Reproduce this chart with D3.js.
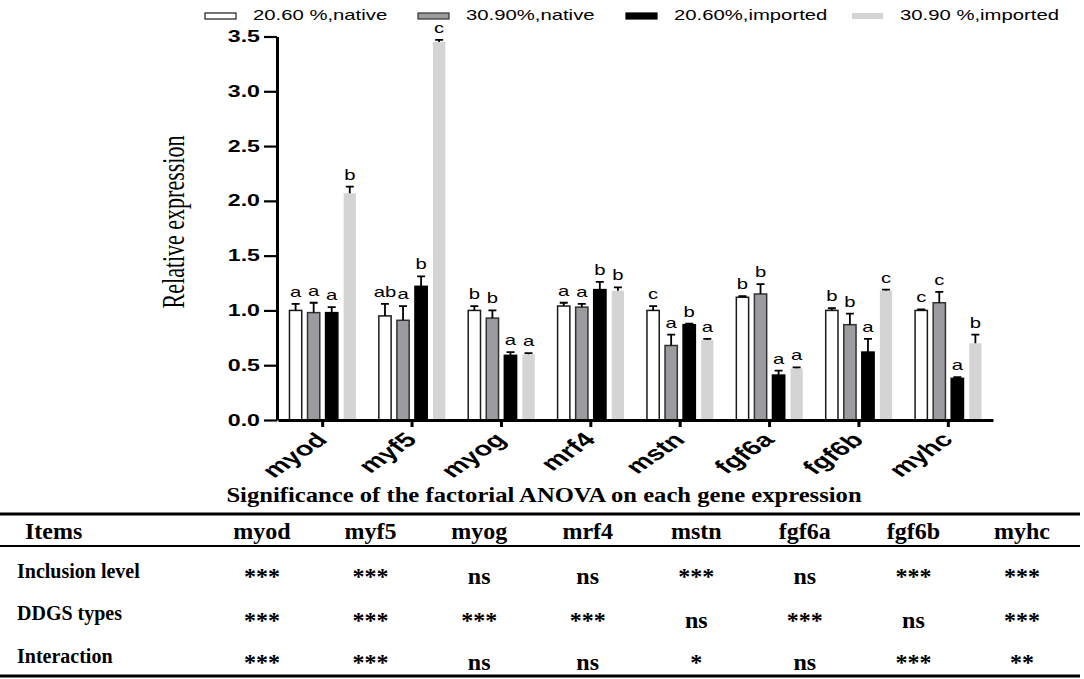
<!DOCTYPE html>
<html>
<head>
<meta charset="utf-8">
<script src="https://cdn.jsdelivr.net/npm/d3@7"></script>
<style>
  body { margin: 0; background: #fff; }
  svg { display: block; }
</style>
</head>
<body>
<div id="chart"></div>
<script>
// ---- data ----
const genes = ["myod", "myf5", "myog", "mrf4", "mstn", "fgf6a", "fgf6b", "myhc"];
const groups = ["20.60 %,native", "30.90%,native", "20.60%,imported", "30.90 %,imported"];

const native206 = [1.00, 0.95, 1.00, 1.04, 1.00, 1.12, 1.00, 1.00];
const native206Se = [0.06, 0.11, 0.04, 0.03, 0.04, 0.01, 0.02, 0.01];
const native309 = [0.98, 0.91, 0.93, 1.03, 0.68, 1.15, 0.87, 1.07];
const native309Se = [0.09, 0.13, 0.07, 0.03, 0.10, 0.09, 0.10, 0.10];
const imported206 = [0.98, 1.22, 0.59, 1.19, 0.87, 0.41, 0.62, 0.38];
const imported206Se = [0.05, 0.09, 0.03, 0.07, 0.01, 0.04, 0.12, 0.01];
const imported309 = [2.07, 3.45, 0.60, 1.18, 0.73, 0.47, 1.18, 0.70];
const imported309Se = [0.06, 0.02, 0.01, 0.03, 0.01, 0.01, 0.01, 0.08];

// significance letters over each bar
const letters206n = ["a", "ab", "b", "a", "c", "b", "b", "c"];
const letters309n = ["a", "a", "b", "a", "a", "b", "b", "c"];
const letters206i = ["a", "b", "a", "b", "b", "a", "a", "a"];
const letters309i = ["b", "c", "a", "b", "a", "a", "c", "b"];

const yTicks = [0, 0.5, 1.0, 1.5, 2.0, 2.5, 3.0, 3.5];

// factorial ANOVA table
const tableTitle = "Significance of the factorial ANOVA on each gene expression";
const rowItems = ["Inclusion level", "DDGS types", "Interaction"];
const inclusionSig = ["***", "***", "ns", "ns", "***", "ns", "***", "***"];
const ddgsSig = ["***", "***", "***", "***", "ns", "***", "ns", "***"];
const interactionSig = ["***", "***", "ns", "ns", "*", "ns", "***", "**"];

// ---- setup ----
const W = 1084, H = 679;
const SX = 1.45; // the figure is stretched horizontally
const sans = "'Liberation Sans', Arial, sans-serif";
const serif = "'Liberation Serif', 'Times New Roman', serif";

const series = [
  {name: groups[0], values: native206, se: native206Se, letters: letters206n, fill: "#ffffff", stroke: "#1a1a1a"},
  {name: groups[1], values: native309, se: native309Se, letters: letters309n, fill: "#9b9ba0", stroke: "#333333"},
  {name: groups[2], values: imported206, se: imported206Se, letters: letters206i, fill: "#000000", stroke: "#000000"},
  {name: groups[3], values: imported309, se: imported309Se, letters: letters309i, fill: "#d4d4d4", stroke: "none"}
];

const svg = d3.select("#chart").append("svg")
  .attr("width", W)
  .attr("height", H);

const x = d3.scaleBand().domain(genes).range([278, 993]);
const xs = d3.scaleBand().domain(groups).range([-39, 39]).padding(0.32);
const y = d3.scaleLinear().domain([0, 3.5]).range([420, 36.5]);

// legend
const legendX = [205, 418, 626, 852];
const legend = svg.append("g");
series.forEach(function (s, i) {
  legend.append("rect")
    .attr("x", legendX[i])
    .attr("y", 13)
    .attr("width", 31)
    .attr("height", 6)
    .attr("fill", s.fill)
    .attr("stroke", s.stroke)
    .attr("stroke-width", 1.2);
  legend.append("text")
    .attr("transform", `translate(${legendX[i] + 48},20) scale(${SX},1)`)
    .style("font-family", sans)
    .style("font-size", "14px")
    .text(s.name);
});

// bars
const barW = xs.bandwidth();
series.forEach(function (s) {
  const g = svg.append("g");
  const cx = (gene) => x(gene) + x.bandwidth() / 2 + xs(s.name);

  g.selectAll("rect")
    .data(genes)
    .join("rect")
    .attr("x", d => cx(d))
    .attr("y", (d, i) => y(s.values[i]))
    .attr("width", barW)
    .attr("height", (d, i) => y(0) - y(s.values[i]))
    .attr("fill", s.fill)
    .attr("stroke", s.stroke)
    .attr("stroke-width", 1.5);

  // upper error bars
  g.selectAll("path.err")
    .data(genes)
    .join("path")
    .attr("class", "err")
    .attr("fill", "none")
    .attr("stroke", "#000")
    .attr("stroke-width", 1.8)
    .attr("d", function (d, i) {
      const mx = cx(d) + barW / 2;
      const top = y(s.values[i] + s.se[i]);
      return `M${mx},${y(s.values[i])}V${top}M${mx - 4},${top}H${mx + 4}`;
    });

  g.selectAll("text")
    .data(genes)
    .join("text")
    .attr("transform", (d, i) => `translate(${cx(d) + barW / 2},${y(s.values[i] + s.se[i]) - 7}) scale(${SX},1)`)
    .attr("text-anchor", "middle")
    .style("font-family", sans)
    .style("font-size", "14px")
    .text((d, i) => s.letters[i]);
});

// y axis
const yAxis = svg.append("g")
  .attr("transform", "translate(277,0)")
  .call(d3.axisLeft(y).tickValues(yTicks).tickFormat(d3.format(".1f")).tickSize(13).tickSizeOuter(0));
yAxis.select(".domain").attr("stroke-width", 3);
yAxis.selectAll(".tick line").attr("stroke-width", 2.2);
yAxis.selectAll(".tick text")
  .attr("x", null)
  .attr("transform", `translate(-17,0) scale(${SX},1)`)
  .attr("fill", "#000")
  .style("font-family", sans)
  .style("font-weight", "bold")
  .style("font-size", "16px");

// x axis
const xAxis = svg.append("g")
  .attr("transform", "translate(0,420)")
  .call(d3.axisBottom(x).tickSize(7).tickSizeOuter(0));
xAxis.select(".domain").attr("stroke-width", 3);
xAxis.selectAll(".tick line").attr("stroke-width", 3);
xAxis.selectAll(".tick text")
  .attr("y", null)
  .attr("dy", null)
  .attr("text-anchor", "end")
  .attr("transform", `translate(6,21) scale(${SX},1) rotate(-45)`)
  .attr("fill", "#000")
  .style("font-family", sans)
  .style("font-weight", "bold")
  .style("font-size", "20px");

// y axis title
svg.append("text")
  .attr("transform", `translate(184,222) scale(${SX},1) rotate(-90)`)
  .attr("text-anchor", "middle")
  .style("font-family", serif)
  .style("font-size", "22px")
  .text("Relative expression");

// ---- ANOVA table ----
const col = d3.scalePoint().domain(genes).range([262, 1022]);
const table = svg.append("g").style("font-family", serif).style("font-weight", "bold");

table.append("text")
  .attr("transform", "translate(544,502) scale(1.12,1)")
  .attr("text-anchor", "middle")
  .style("font-size", "22px")
  .text(tableTitle);

table.append("line").attr("x1", 0).attr("x2", 1080).attr("y1", 514).attr("y2", 514)
  .attr("stroke", "#000").attr("stroke-width", 3);
table.append("line").attr("x1", 0).attr("x2", 1080).attr("y1", 546).attr("y2", 546)
  .attr("stroke", "#000").attr("stroke-width", 2);
table.append("line").attr("x1", 0).attr("x2", 1080).attr("y1", 676).attr("y2", 676)
  .attr("stroke", "#000").attr("stroke-width", 3);

table.append("text")
  .attr("x", 25)
  .attr("y", 539)
  .style("font-size", "24px")
  .text("Items");

table.selectAll("text.head")
  .data(genes)
  .join("text")
  .attr("class", "head")
  .attr("x", d => col(d))
  .attr("y", 539)
  .attr("text-anchor", "middle")
  .style("font-size", "24px")
  .text(d => d);

const rows = [inclusionSig, ddgsSig, interactionSig];
const rowLabelY = [578, 620, 663];
const rowValueY = [584, 628, 670];

rowItems.forEach(function (item, r) {
  table.append("text")
    .attr("x", 17)
    .attr("y", rowLabelY[r])
    .style("font-size", "20px")
    .text(item);

  table.selectAll("text.row" + r)
    .data(genes)
    .join("text")
    .attr("class", "row" + r)
    .attr("x", d => col(d))
    .attr("y", rowValueY[r])
    .attr("text-anchor", "middle")
    .style("font-size", "24px")
    .text((d, i) => rows[r][i]);
});
</script>
</body>
</html>
